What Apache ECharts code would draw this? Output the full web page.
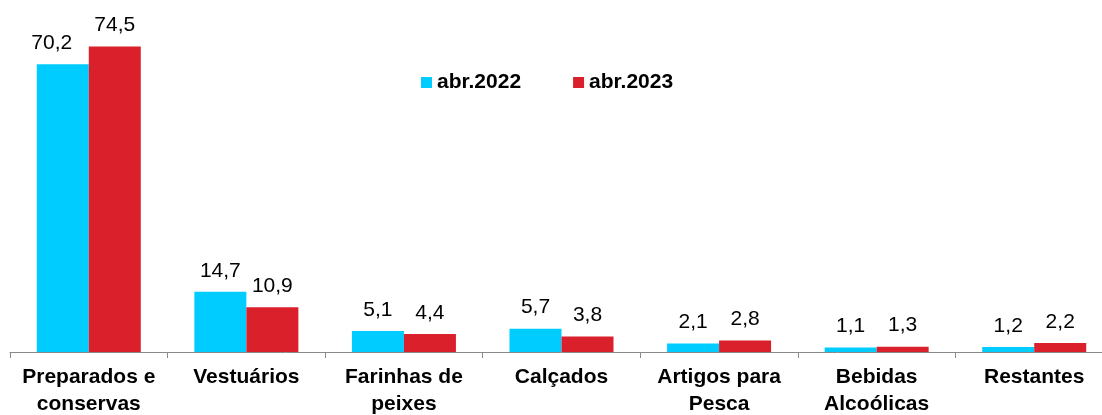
<!DOCTYPE html>
<html>
<head>
<meta charset="utf-8">
<script src="https://cdn.jsdelivr.net/npm/echarts@6/dist/echarts.min.js"></script>
<style>
  html, body { margin: 0; padding: 0; background: #fff; overflow: hidden; }
  /* the axis in the source runs past the right edge, so the chart is a bit wider than the window */
  #chart { width: 1124px; height: 415px; }
</style>
</head>
<body>
<div id="chart"></div>
<script>
const categories = [
  'Preparados e\nconservas',
  'Vestuários',
  'Farinhas de\npeixes',
  'Calçados',
  'Artigos para\nPesca',
  'Bebidas\nAlcoólicas',
  'Restantes'
];
const seriesNames = ['abr.2022', 'abr.2023'];
const values2022 = [70.2, 14.7, 5.1, 5.7, 2.1, 1.1, 1.2];
const values2023 = [74.5, 10.9, 4.4, 3.8, 2.8, 1.3, 2.2];

const font = 'Liberation Sans, Arial, sans-serif';

const chart = echarts.init(document.getElementById('chart'), null, { renderer: 'canvas' });

const valueLabel = {
  show: true,
  position: 'top',
  distance: 9,
  color: '#000',
  fontFamily: font,
  fontSize: 21,
  lineHeight: 24,
  formatter: p => p.value.toFixed(1).replace('.', ',')
};

// first label in the source is nudged left so it doesn't touch its neighbour
const data2022 = values2022.map((v, i) =>
  i === 0 ? { value: v, label: { offset: [-11, 0] } } : v
);

const option = {
  animation: false,
  backgroundColor: '#fff',
  grid: { left: 10, right: 11, top: 24, bottom: 59, containLabel: false },
  legend: {
    data: seriesNames,
    left: 421,
    top: 72,
    padding: 0,
    icon: 'rect',
    itemWidth: 11,
    itemHeight: 11,
    itemGap: 52,
    textStyle: { fontFamily: font, fontSize: 21, fontWeight: 'bold', color: '#000' }
  },
  xAxis: {
    type: 'category',
    data: categories,
    axisLine: { lineStyle: { color: '#8a8a8a', width: 1 } },
    axisTick: { show: true, length: 6, lineStyle: { color: '#8a8a8a' } },
    axisLabel: {
      interval: 0,
      margin: 12,
      // rich style so the two-line labels get the wider line spacing
      formatter: v => v.split('\n').map(s => '{c|' + s + '}').join('\n'),
      rich: {
        c: { color: '#000', fontFamily: font, fontSize: 21, fontWeight: 'bold', lineHeight: 27 }
      }
    }
  },
  yAxis: { type: 'value', min: 0, max: 80, show: false, splitLine: { show: false } },
  series: [
    {
      name: seriesNames[0],
      type: 'bar',
      data: data2022,
      barGap: '0%',
      barCategoryGap: '34%',
      itemStyle: { color: '#00CCFF' },
      label: valueLabel
    },
    {
      name: seriesNames[1],
      type: 'bar',
      data: values2023,
      barGap: '0%',
      barCategoryGap: '34%',
      itemStyle: { color: '#DA202B' },
      label: valueLabel
    }
  ]
};

chart.setOption(option);
</script>
</body>
</html>
